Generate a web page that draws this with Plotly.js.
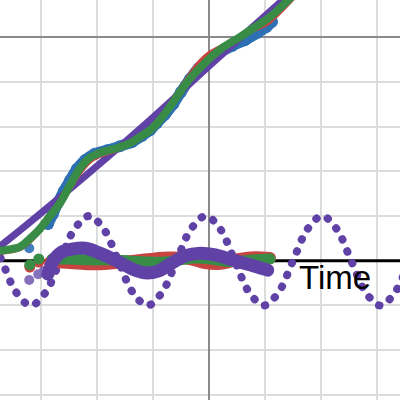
<!DOCTYPE html>
<html>
<head>
<meta charset="utf-8">
<script src="https://cdn.plot.ly/plotly-3.0.1.min.js"></script>
<style>
html,body{margin:0;padding:0;background:#fff;}
#chart{width:400px;height:400px;}
.js-line{stroke-linecap:round !important;stroke-linejoin:round !important;}
</style>
</head>
<body>
<div id="chart"></div>
<script>
// ---- data ----
var timeLineX = [-4.5, 4.5];
var timeLineY = [-5, -5];
var timeLabel = "Time";

// dotted oscillation
var waveX = [-4.22,-3.96,-3.70,-3.44,-3.18,-2.92,-2.66,-2.40,-2.14,-1.88,-1.62,-1.36,-1.10,-0.84,-0.58,-0.32,-0.06,0.20,0.46,0.72,0.98,1.24,1.50,1.76,2.02,2.28,2.54,2.80,3.06,3.32,3.58,3.84,4.10];
var waveY = [-4.0,-4.29,-5.0,-5.71,-6.0,-5.71,-5.0,-4.29,-4.0,-4.29,-5.0,-5.71,-6.0,-5.71,-5.0,-4.29,-4.0,-4.29,-5.0,-5.71,-6.0,-5.71,-5.0,-4.29,-4.0,-4.29,-5.0,-5.71,-6.0,-5.71,-5.0,-4.29,-4.0];

// rising group
var blueRiseX = [-2.875,-2.79,-2.70,-2.59,-2.48,-2.36,-2.21,-2.04,-1.82,-1.59,-1.38,-1.20,-1.05,-0.93,-0.79,-0.64,-0.50,-0.34,-0.18,0,0.20,0.41,0.64,0.86,1.02,1.125];
var blueRiseY = [-4.18,-3.96,-3.71,-3.44,-3.20,-2.95,-2.75,-2.61,-2.53,-2.44,-2.35,-2.21,-2.08,-1.92,-1.74,-1.50,-1.23,-0.94,-0.69,-0.54,-0.34,-0.20,-0.07,0.09,0.22,0.34];
var blueDotX = [-3.21];
var blueDotY = [-4.72];

var purpleRiseX = [-3.91,-3.73,-2.66,-1.05,0,1.32,1.63];
var purpleRiseY = [-4.83,-4.67,-3.58,-1.85,-0.65,0.83,1.18];

var redRiseX = [-3.91,-3.73,-3.375,-3.20,-3.02,-2.84,-2.66,-2.48,-2.30,-2.13,-1.95,-1.64,-1.41,-1.23,-1.05,-0.875,-0.70,-0.39,-0.16,0,0.23,0.55,0.82,1.09,1.36,1.63];
var redRiseY = [-4.87,-4.83,-4.74,-4.58,-4.34,-4.04,-3.75,-3.40,-3.04,-2.79,-2.66,-2.53,-2.39,-2.26,-2.08,-1.81,-1.50,-0.92,-0.54,-0.36,-0.20,-0.02,0.16,0.34,0.67,1.03];

var greenRiseX = [-3.91,-3.73,-3.375,-3.20,-3.02,-2.84,-2.66,-2.48,-2.30,-2.13,-1.95,-1.64,-1.41,-1.23,-1.05,-0.875,-0.70,-0.39,-0.16,0,0.23,0.55,0.82,1.09,1.36,1.63];
var greenRiseY = [-4.83,-4.78,-4.69,-4.51,-4.29,-4.00,-3.71,-3.31,-2.93,-2.70,-2.59,-2.48,-2.37,-2.23,-2.08,-1.85,-1.56,-1.01,-0.69,-0.49,-0.25,0,0.22,0.45,0.76,1.09];

// lower group
var redLowX = [-2.84,-2.48,-2.125,-1.77,-1.41,-1.05,-0.70,-0.34,-0.07,0.20,0.55,0.82,1.09];
var redLowY = [-5.03,-5.05,-5.08,-5.06,-5.01,-4.96,-4.93,-4.96,-5.05,-5.07,-4.96,-4.92,-4.94];
var redDotX = [-3.20,-3.04];
var redDotY = [-5.14,-5.03];

var greenLowX = [-2.80,-2.48,-2.125,-1.77,-1.41,-1.05,-0.79,-0.52,-0.25,0.02,0.29,0.55,0.82,1.09];
var greenLowY = [-4.96,-4.96,-4.98,-4.98,-5.01,-5.03,-5.03,-4.98,-4.94,-4.96,-5.01,-5.01,-4.98,-4.96];
var greenDotX = [-3.20,-3.04];
var greenDotY = [-5.09,-4.96];

var purpleLowX = [-2.875,-2.77,-2.625,-2.45,-2.21,-1.95,-1.64,-1.375,-1.14,-0.91,-0.66,-0.43,-0.16,0.11,0.41,0.73,1.05];
var purpleLowY = [-5.30,-4.98,-4.80,-4.74,-4.72,-4.83,-5.01,-5.18,-5.27,-5.23,-5.05,-4.89,-4.83,-4.87,-4.98,-5.09,-5.21];
var purpleDotX = [-3.21,-3.05,-2.95];
var purpleDotY = [-5.43,-5.30,-5.23];

// ---- styles ----
var RED = '#c74440', BLUE = '#2d70b3', GREEN = '#388c46', PURPLE = '#6042a6';

function line(x, y, color, width) {
  return {x: x, y: y, type: 'scatter', mode: 'lines', hoverinfo: 'skip',
    line: {color: color, width: width, shape: 'spline', smoothing: 1}};
}
function dots(x, y, color, size, opacity) {
  return {x: x, y: y, type: 'scatter', mode: 'markers', hoverinfo: 'skip', opacity: opacity || 1,
    marker: {color: color, size: size, line: {width: 0}}};
}

var traces = [
  {x: timeLineX, y: timeLineY, type: 'scatter', mode: 'lines', hoverinfo: 'skip', line: {color: '#000000', width: 3}},
  {x: waveX, y: waveY, type: 'scatter', mode: 'lines', hoverinfo: 'skip',
    line: {color: PURPLE, width: 8, shape: 'spline', smoothing: 1, dash: '0.5px,12.3px'}},
  {x: blueRiseX, y: blueRiseY, type: 'scatter', mode: 'lines+markers', hoverinfo: 'skip',
    line: {color: BLUE, width: 11, shape: 'spline'}, marker: {color: BLUE, size: 12, line: {width: 0}}},
  dots(blueDotX, blueDotY, BLUE, 10, 0.9),
  line(purpleRiseX, purpleRiseY, PURPLE, 7),
  line(redRiseX, redRiseY, RED, 4),
  line(greenRiseX, greenRiseY, GREEN, 8),
  line(redLowX, redLowY, RED, 12),
  dots(redDotX, redDotY, RED, 11),
  line(greenLowX, greenLowY, GREEN, 11),
  dots(greenDotX, greenDotY, GREEN, 11),
  dots(purpleDotX, purpleDotY, PURPLE, 10, 0.75),
  line(purpleLowX, purpleLowY, PURPLE, 13)
];

var axisBase = {
  dtick: 1, tick0: 0, showticklabels: false, ticks: '',
  showgrid: true, gridcolor: '#dcdcdc', gridwidth: 2,
  zeroline: true, zerolinecolor: '#8a8a8a', zerolinewidth: 2,
  showline: false, fixedrange: true
};
var layout = {
  width: 400, height: 400,
  margin: {l: 0, r: 0, t: 0, b: 0, pad: 0},
  paper_bgcolor: '#ffffff', plot_bgcolor: '#ffffff',
  showlegend: false,
  xaxis: Object.assign({}, axisBase, {range: [-3.732, 3.411]}),
  yaxis: Object.assign({}, axisBase, {range: [-8.112, 0.827]}),
  annotations: [{
    x: 2.25, y: -5.385, xref: 'x', yref: 'y', text: timeLabel, showarrow: false,
    xanchor: 'center', yanchor: 'middle',
    font: {family: 'Arial, Liberation Sans, sans-serif', size: 33, color: '#000000'}
  }]
};
Plotly.newPlot('chart', traces, layout, {staticPlot: true, displayModeBar: false});
</script>
</body>
</html>
